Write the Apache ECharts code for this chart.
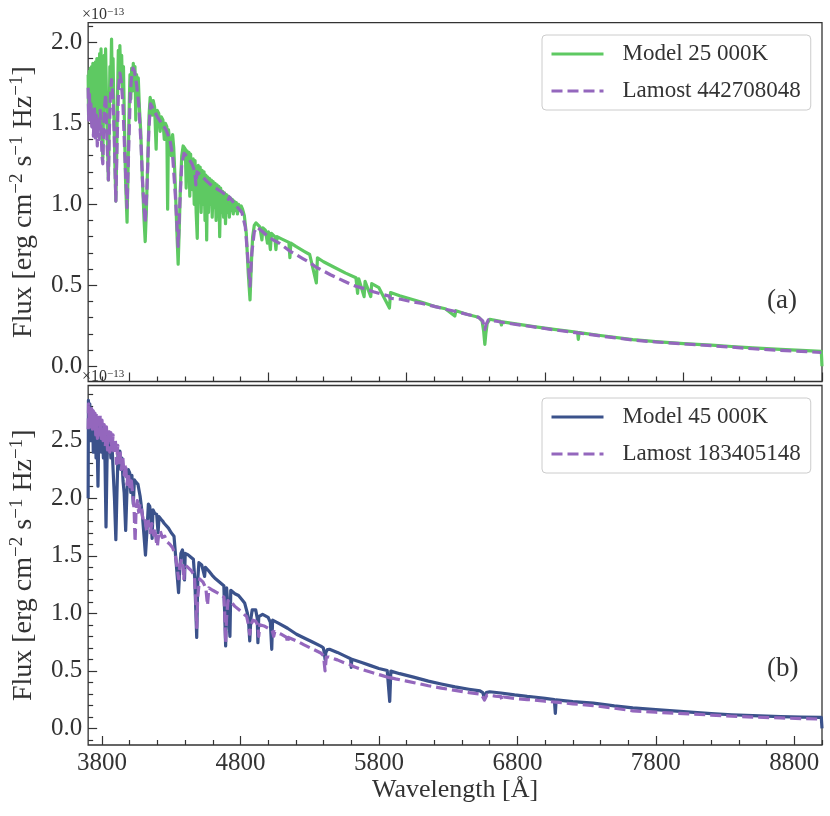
<!DOCTYPE html>
<html>
<head>
<meta charset="utf-8">
<script src="https://cdn.jsdelivr.net/npm/echarts@6.0.0/dist/echarts.min.js"></script>
<style>
  html, body { margin: 0; padding: 0; background: #ffffff; }
  #chart { width: 830px; height: 816px; }
</style>
</head>
<body>
<div id="chart"></div>
<script>
// ---------------- data (flux in units of 1e-13) ----------------
const seriesNames = ['Model 25 000K', 'Lamost 442708048', 'Model 45 000K', 'Lamost 183405148'];

const modelA = [
[3700,1.80],[3703,1.55],[3707,1.82],[3711,1.58],[3716,1.84],[3720,1.52],[3725,1.85],[3729,1.60],
[3734,1.87],[3738,1.50],[3743,1.86],[3748,1.46],[3753,1.88],[3758,1.55],[3763,1.90],[3768,1.42],
[3773,1.90],[3778,1.50],[3783,1.93],[3788,1.60],[3793,1.96],[3799,1.45],[3806,1.28],[3811,1.60],
[3816,1.92],[3821,1.70],[3826,1.96],[3831,1.72],[3836,1.50],[3846,1.15],[3852,1.50],[3857,1.85],
[3862,1.70],[3869,2.02],[3874,1.75],[3880,1.90],[3886,1.55],[3893,1.25],[3900,1.02],[3906,1.30],
[3912,1.65],[3918,1.95],[3923,1.75],[3929,1.98],[3935,1.80],[3942,1.92],[3948,1.70],[3955,1.85],
[3962,1.50],[3970,1.15],[3981,0.89],[3988,1.20],[3995,1.55],[4002,1.80],[4008,1.65],[4014,1.84],
[4020,1.70],[4026,1.87],[4032,1.75],[4038,1.85],[4044,1.52],[4050,1.80],[4056,1.68],[4062,1.78],
[4070,1.60],[4080,1.45],[4092,1.15],[4104,0.90],[4112,0.77],[4120,0.95],[4130,1.25],[4140,1.55],
[4148,1.66],[4155,1.66],[4163,1.55],[4170,1.64],[4180,1.60],[4191,1.34],[4198,1.58],[4210,1.56],
[4220,1.45],[4228,1.54],[4240,1.52],[4250,1.40],[4258,1.50],[4268,1.48],[4274,0.97],[4280,1.46],
[4290,1.45],[4300,1.30],[4310,1.43],[4318,1.35],[4328,1.15],[4340,0.85],[4350,0.63],[4358,0.85],
[4366,1.10],[4376,1.30],[4386,1.36],[4393,1.36],[4402,1.34],[4408,1.10],[4414,1.33],[4421,1.20],
[4428,1.32],[4434,1.05],[4440,1.31],[4447,1.15],[4453,1.09],[4459,1.28],[4466,1.00],[4472,1.27],
[4480,0.95],[4488,0.79],[4495,1.24],[4502,1.05],[4509,1.23],[4516,0.95],[4523,1.21],[4530,1.00],
[4537,1.20],[4544,0.90],[4550,1.18],[4556,0.78],[4562,1.17],[4569,0.95],[4576,1.16],[4583,1.00],
[4590,1.15],[4596,0.92],[4603,1.14],[4610,0.98],[4617,1.13],[4624,0.90],[4631,1.12],[4638,0.97],
[4644,1.11],[4650,0.80],[4657,1.10],[4664,0.95],[4671,1.08],[4678,0.92],[4685,1.07],[4692,0.88],
[4699,1.06],[4706,0.95],[4713,1.05],[4720,0.92],[4727,1.04],[4734,0.96],[4741,1.03],[4748,0.94],
[4755,1.02],[4762,0.96],[4770,1.01],[4778,0.94],[4786,1.00],[4795,0.97],[4805,0.99],[4815,0.97],
[4828,0.93],[4842,0.82],[4856,0.58],[4869,0.41],[4878,0.62],[4888,0.80],[4900,0.87],[4912,0.885],
[4925,0.88],[4940,0.86],[4955,0.78],[4962,0.855],[4980,0.84],[4995,0.76],[5002,0.83],[5016,0.72],
[5024,0.82],[5048,0.80],[5056,0.72],[5064,0.80],[5100,0.785],[5150,0.765],[5157,0.67],[5164,0.76],
[5200,0.74],[5260,0.71],[5300,0.69],[5348,0.515],[5356,0.67],[5400,0.645],[5480,0.61],[5560,0.575],
[5634,0.546],[5646,0.45],[5654,0.54],[5693,0.43],[5700,0.525],[5741,0.43],[5748,0.51],[5800,0.485],
[5876,0.36],[5884,0.455],[5950,0.435],[6030,0.415],[6110,0.395],[6200,0.37],[6280,0.355],[6348,0.31],
[6356,0.343],[6440,0.32],[6520,0.303],[6545,0.28],[6556,0.22],[6565,0.135],[6572,0.20],[6582,0.265],
[6600,0.29],[6678,0.277],[6685,0.255],[6692,0.274],[6800,0.26],[6919,0.245],[7065,0.228],[7235,0.21],
[7240,0.166],[7246,0.208],[7400,0.19],[7633,0.165],[7800,0.152],[8000,0.14],[8200,0.13],[8348,0.122],
[8500,0.113],[8700,0.104],[8850,0.098],[8995,0.092],[9000,0.0]
];

const lamostA = [
[3700,1.72],[3704,1.52],[3709,1.70],[3714,1.50],[3720,1.62],[3726,1.48],[3732,1.58],[3738,1.42],
[3745,1.60],[3752,1.40],[3759,1.55],[3766,1.36],[3773,1.52],[3780,1.40],[3787,1.58],[3794,1.45],
[3800,1.30],[3806,1.25],[3812,1.48],[3820,1.62],[3827,1.68],[3834,1.45],[3846,1.15],[3853,1.45],
[3860,1.65],[3869,1.77],[3878,1.68],[3888,1.45],[3900,1.02],[3910,1.42],[3920,1.72],[3929,1.81],
[3940,1.75],[3952,1.60],[3965,1.30],[3981,0.98],[3993,1.35],[4005,1.70],[4015,1.80],[4024,1.84],
[4035,1.82],[4050,1.74],[4065,1.62],[4080,1.40],[4095,1.10],[4112,0.885],[4125,1.10],[4138,1.45],
[4150,1.62],[4158,1.63],[4175,1.58],[4200,1.54],[4230,1.50],[4262,1.46],[4290,1.40],[4310,1.30],
[4330,1.05],[4350,0.74],[4362,1.00],[4376,1.25],[4393,1.315],[4420,1.29],[4450,1.25],[4471,1.20],
[4478,1.12],[4486,1.20],[4524,1.17],[4560,1.14],[4600,1.11],[4650,1.085],[4691,1.06],[4713,1.03],
[4720,1.045],[4750,1.01],[4780,0.98],[4810,0.95],[4835,0.86],[4852,0.68],[4869,0.494],[4882,0.70],
[4900,0.83],[4920,0.86],[4929,0.863],[4960,0.83],[5000,0.80],[5036,0.78],[5080,0.76],[5120,0.735],
[5158,0.71],[5200,0.69],[5250,0.665],[5300,0.64],[5350,0.61],[5396,0.59],[5450,0.565],[5500,0.545],
[5550,0.525],[5600,0.505],[5634,0.494],[5700,0.478],[5760,0.46],[5820,0.445],[5874,0.433],[5880,0.42],
[5886,0.43],[5950,0.415],[6030,0.40],[6110,0.388],[6200,0.37],[6280,0.352],[6348,0.34],[6440,0.32],
[6520,0.302],[6550,0.28],[6565,0.228],[6575,0.26],[6590,0.286],[6650,0.278],[6700,0.27],[6800,0.257],
[6919,0.243],[7065,0.225],[7235,0.206],[7400,0.187],[7633,0.162],[7800,0.15],[8000,0.138],[8200,0.127],
[8348,0.118],[8500,0.108],[8700,0.098],[8850,0.092],[8995,0.085]
];

const modelB = [
[3700,2.00],[3702,2.85],[3707,2.60],[3712,2.82],[3717,2.50],[3722,2.78],[3727,2.55],[3732,2.76],
[3737,2.40],[3742,2.74],[3747,2.55],[3752,2.72],[3757,2.35],[3762,2.70],[3771,2.105],[3778,2.66],
[3784,2.45],[3790,2.64],[3796,2.40],[3802,2.62],[3810,2.35],[3816,2.58],[3822,2.30],[3829,1.75],
[3836,2.30],[3842,2.55],[3850,2.40],[3857,2.53],[3864,2.35],[3872,2.48],[3880,2.25],[3890,2.00],
[3900,1.64],[3908,2.05],[3916,2.40],[3922,2.30],[3929,2.41],[3936,2.25],[3944,2.35],[3952,2.15],
[3960,2.05],[3971,1.72],[3980,2.05],[3990,2.25],[4000,2.22],[4008,2.05],[4016,2.20],[4026,1.95],
[4034,2.16],[4045,2.14],[4060,2.12],[4075,2.02],[4092,1.85],[4105,1.65],[4114,1.505],[4124,1.70],
[4135,1.95],[4145,1.93],[4155,1.80],[4162,1.65],[4168,1.90],[4180,1.87],[4195,1.86],[4205,1.70],
[4212,1.84],[4225,1.82],[4239,1.80],[4250,1.78],[4262,1.77],[4280,1.74],[4300,1.70],[4320,1.67],
[4335,1.45],[4345,1.30],[4353,1.18],[4360,1.35],[4370,1.52],[4381,1.55],[4391,1.48],[4396,1.29],
[4401,1.52],[4420,1.51],[4440,1.49],[4460,1.47],[4470,1.30],[4484,0.79],[4492,1.30],[4500,1.44],
[4520,1.42],[4541,1.32],[4547,1.40],[4570,1.37],[4596,1.33],[4620,1.30],[4650,1.27],[4680,1.24],
[4693,0.716],[4700,1.22],[4714,1.21],[4724,0.80],[4730,1.20],[4760,1.17],[4786,1.155],[4810,1.12],
[4830,1.09],[4850,1.00],[4860,0.90],[4867,0.76],[4875,0.95],[4885,1.03],[4895,1.04],[4910,1.03],
[4921,0.96],[4926,0.745],[4932,0.97],[4960,0.99],[5000,0.965],[5016,0.92],[5026,0.687],[5032,0.94],
[5080,0.91],[5140,0.87],[5205,0.818],[5260,0.785],[5320,0.75],[5380,0.715],[5398,0.70],[5405,0.66],
[5411,0.60],[5417,0.66],[5428,0.685],[5443,0.687],[5500,0.66],[5560,0.625],[5596,0.605],[5600,0.53],
[5604,0.60],[5681,0.57],[5740,0.545],[5800,0.52],[5860,0.502],[5878,0.233],[5886,0.497],[5950,0.475],
[6050,0.445],[6157,0.41],[6250,0.385],[6350,0.36],[6450,0.34],[6530,0.325],[6550,0.31],[6562,0.26],
[6575,0.31],[6600,0.318],[6681,0.307],[6780,0.29],[6871,0.277],[6919,0.272],[7000,0.26],[7067,0.25],
[7074,0.13],[7080,0.248],[7200,0.232],[7348,0.219],[7500,0.195],[7633,0.178],[7800,0.162],[8000,0.145],
[8200,0.128],[8348,0.118],[8500,0.11],[8700,0.102],[8850,0.098],[8995,0.095],[9000,0.0]
];

const lamostB = [
[3700,2.60],[3703,2.82],[3708,2.66],[3713,2.80],[3719,2.62],[3725,2.78],[3731,2.60],[3737,2.76],
[3743,2.58],[3749,2.74],[3755,2.55],[3761,2.72],[3767,2.52],[3773,2.70],[3780,2.55],[3787,2.72],
[3794,2.52],[3800,2.68],[3808,2.50],[3816,2.64],[3824,2.45],[3832,2.62],[3840,2.42],[3848,2.60],
[3856,2.40],[3864,2.57],[3872,2.42],[3880,2.55],[3888,2.38],[3896,2.52],[3905,2.30],[3914,2.46],
[3922,2.28],[3930,2.42],[3940,2.25],[3950,2.36],[3960,2.20],[3970,2.30],[3980,2.12],[3990,2.22],
[4000,2.10],[4012,2.15],[4025,2.00],[4032,1.90],[4039,1.62],[4046,1.90],[4055,1.98],[4065,1.88],
[4075,1.95],[4086,1.90],[4098,1.80],[4110,1.82],[4122,1.72],[4135,1.80],[4148,1.70],[4160,1.78],
[4172,1.68],[4181,1.74],[4193,1.62],[4200,1.58],[4207,1.66],[4220,1.72],[4235,1.66],[4253,1.67],
[4270,1.62],[4290,1.60],[4310,1.57],[4330,1.50],[4345,1.38],[4353,1.30],[4362,1.42],[4375,1.47],
[4386,1.40],[4391,1.29],[4398,1.42],[4420,1.40],[4445,1.37],[4467,1.33],[4476,1.15],[4484,0.877],
[4492,1.15],[4505,1.30],[4530,1.27],[4550,1.22],[4562,1.07],[4572,1.22],[4600,1.20],[4630,1.18],
[4660,1.16],[4681,1.14],[4688,0.95],[4693,0.745],[4699,0.95],[4710,1.11],[4725,1.08],[4740,1.09],
[4760,1.06],[4790,1.03],[4820,1.00],[4845,0.97],[4858,0.90],[4867,0.818],[4876,0.90],[4890,0.94],
[4910,0.93],[4925,0.90],[4932,0.80],[4940,0.90],[4970,0.89],[5000,0.87],[5030,0.85],[5040,0.80],
[5048,0.84],[5090,0.82],[5133,0.79],[5140,0.74],[5147,0.79],[5205,0.76],[5260,0.725],[5320,0.69],
[5380,0.655],[5400,0.63],[5411,0.50],[5420,0.62],[5440,0.62],[5500,0.595],[5560,0.565],[5600,0.55],
[5620,0.535],[5681,0.51],[5750,0.485],[5820,0.46],[5876,0.44],[5882,0.41],[5888,0.44],[5920,0.43],
[6000,0.41],[6080,0.39],[6157,0.37],[6250,0.35],[6350,0.33],[6450,0.31],[6540,0.296],[6562,0.245],
[6580,0.29],[6640,0.28],[6681,0.275],[6690,0.24],[6700,0.272],[6780,0.26],[6871,0.25],[6919,0.247],
[7000,0.235],[7100,0.225],[7200,0.213],[7348,0.198],[7500,0.175],[7633,0.152],[7800,0.14],[8000,0.128],
[8200,0.115],[8348,0.105],[8500,0.098],[8700,0.09],[8850,0.085],[8995,0.08]
];

// tick labels
const xMajorBottom = [3800, 4800, 5800, 6800, 7800, 8800];
const xMajorTop = [4000, 5000, 6000, 7000, 8000, 9000];
const yTicksA = [0.0, 0.5, 1.0, 1.5, 2.0];
const yTicksB = [0.0, 0.5, 1.0, 1.5, 2.0, 2.5];
const panelLabels = ['(a)', '(b)'];

// ---------------- layout / style ----------------
const FONT = "'Liberation Serif', 'DejaVu Serif', serif";
const TXT = '#333333';
const SPINE = '#333333';
const C_GREEN = '#5ec962', C_PURPLE = '#9467bd', C_BLUE = '#3b528b';
const X_MIN = 3700, X_MAX = 9000;
const Y_A = [-0.094, 2.121], Y_B = [-0.145, 2.98];

function minorX(majors) {
  const out = [];
  for (let v = 3800; v <= 9000; v += 200) if (!majors.includes(v)) out.push(v);
  return out;
}
function minorY(range, majors) {
  const out = [];
  for (let i = -5; i <= 35; i++) {
    const v = i / 10;
    if (v < range[0] || v > range[1]) continue;
    if (majors.some(m => Math.abs(m - v) < 1e-9)) continue;
    out.push(v);
  }
  return out;
}

const tickStyle = { color: SPINE, width: 1.2 };
function xAxisPair(gridIndex, majors, withLabels) {
  const main = {
    type: 'value', gridIndex, min: X_MIN, max: X_MAX, position: 'bottom',
    axisLine: { show: false, onZero: false }, splitLine: { show: false },
    axisTick: { show: true, inside: true, length: 9, customValues: majors, lineStyle: tickStyle },
    axisLabel: withLabels ? {
      show: true, customValues: majors, margin: 6,
      fontFamily: FONT, fontSize: 25, color: TXT, formatter: v => String(v)
    } : { show: false }
  };
  if (withLabels) {
    main.name = 'Wavelength [Å]';
    main.nameLocation = 'middle';
    main.nameGap = 30;
    main.nameTextStyle = { fontFamily: FONT, fontSize: 26, color: TXT };
  }
  const minor = {
    type: 'value', gridIndex, min: X_MIN, max: X_MAX, position: 'bottom', offset: 0,
    axisLine: { show: false, onZero: false }, splitLine: { show: false }, axisLabel: { show: false },
    axisTick: { show: true, inside: true, length: 5, customValues: minorX(majors), lineStyle: tickStyle }
  };
  return [main, minor];
}
function yAxisPair(gridIndex, range, majors) {
  const main = {
    type: 'value', gridIndex, min: range[0], max: range[1], position: 'left',
    axisLine: { show: false, onZero: false }, splitLine: { show: false },
    axisTick: { show: true, inside: true, length: 9, customValues: majors, lineStyle: tickStyle },
    axisLabel: { show: true, customValues: majors, margin: 6, fontFamily: FONT, fontSize: 25, color: TXT,
                 formatter: v => v.toFixed(1) },
    name: 'Flux [erg cm{s|−2} s{s|−1} Hz{s|−1}]',
    nameLocation: 'middle', nameGap: 44, nameRotate: 90,
    nameTextStyle: { fontFamily: FONT, fontSize: 28, color: TXT, lineHeight: 32,
      rich: { s: { fontFamily: FONT, fontSize: 19, color: TXT, verticalAlign: 'top', lineHeight: 32 } } }
  };
  const minor = {
    type: 'value', gridIndex, min: range[0], max: range[1], position: 'left', offset: 0,
    axisLine: { show: false, onZero: false }, splitLine: { show: false }, axisLabel: { show: false },
    axisTick: { show: true, inside: true, length: 5, customValues: minorY(range, majors), lineStyle: tickStyle }
  };
  return [main, minor];
}

function legendAt(top, names) {
  return {
    data: names, left: 542, top, orient: 'vertical', selectedMode: false,
    itemWidth: 52, itemHeight: 14, itemGap: 13, padding: [7, 10, 7, 8],
    textStyle: { fontFamily: FONT, fontSize: 23, color: TXT, lineHeight: 24, padding: [0, 0, 0, 14] },
    backgroundColor: 'rgba(255,255,255,0.8)', borderColor: '#cccccc', borderWidth: 1, borderRadius: 4,
    lineStyle: { width: 3 },
    itemStyle: { opacity: 0, borderWidth: 0 }
  };
}

const offsetTextStyle = {
  fontFamily: FONT, fontSize: 16, fontWeight: 'normal', color: TXT,
  rich: { s: { fontFamily: FONT, fontSize: 11, color: TXT, verticalAlign: 'top' } }
};
const panelTextStyle = { fontFamily: FONT, fontSize: 27, fontWeight: 'normal', color: TXT };

function lineSeries(name, data, xi, yi, color, dashed, z) {
  return {
    type: 'line', name, data, xAxisIndex: xi, yAxisIndex: yi,
    showSymbol: false, symbol: 'none', sampling: null, smooth: false, silent: true, z,
    lineStyle: { color, width: 3.2, type: dashed ? [11, 5] : 'solid', join: 'round', cap: 'butt' },
    itemStyle: { color }
  };
}

const [xa0, xa1] = xAxisPair(0, xMajorTop, false);
const [xb0, xb1] = xAxisPair(1, xMajorBottom, true);
const [ya0, ya1] = yAxisPair(0, Y_A, yTicksA);
const [yb0, yb1] = yAxisPair(1, Y_B, yTicksB);

const option = {
  animation: false,
  backgroundColor: '#ffffff',
  grid: [
    { left: 80, top: 22.7, width: 742, height: 358.8, show: true, borderColor: SPINE, borderWidth: 1.3, backgroundColor: 'transparent' },
    { left: 80, top: 385.5, width: 742, height: 359.5, show: true, borderColor: SPINE, borderWidth: 1.3, backgroundColor: 'transparent' }
  ],
  xAxis: [xa0, xa1, xb0, xb1],
  yAxis: [ya0, ya1, yb0, yb1],
  legend: [
    legendAt(35, [seriesNames[0], seriesNames[1]]),
    legendAt(398, [seriesNames[2], seriesNames[3]])
  ],
  title: [
    { text: '×10{s|−13}', left: 82, top: 7, padding: 0, textStyle: offsetTextStyle },
    { text: '×10{s|−13}', left: 82, top: 369, padding: 0, textStyle: offsetTextStyle },
    { text: panelLabels[0], left: 767, top: 287, padding: 0, textStyle: panelTextStyle },
    { text: panelLabels[1], left: 767, top: 655, padding: 0, textStyle: panelTextStyle }
  ],
  series: [
    lineSeries(seriesNames[0], modelA, 0, 0, C_GREEN, false, 2),
    lineSeries(seriesNames[1], lamostA, 0, 0, C_PURPLE, true, 3),
    lineSeries(seriesNames[2], modelB, 2, 2, C_BLUE, false, 2),
    lineSeries(seriesNames[3], lamostB, 2, 2, C_PURPLE, true, 3)
  ]
};

const chart = echarts.init(document.getElementById('chart'), null, { renderer: 'canvas', width: 830, height: 816 });
chart.setOption(option);
</script>
</body>
</html>
